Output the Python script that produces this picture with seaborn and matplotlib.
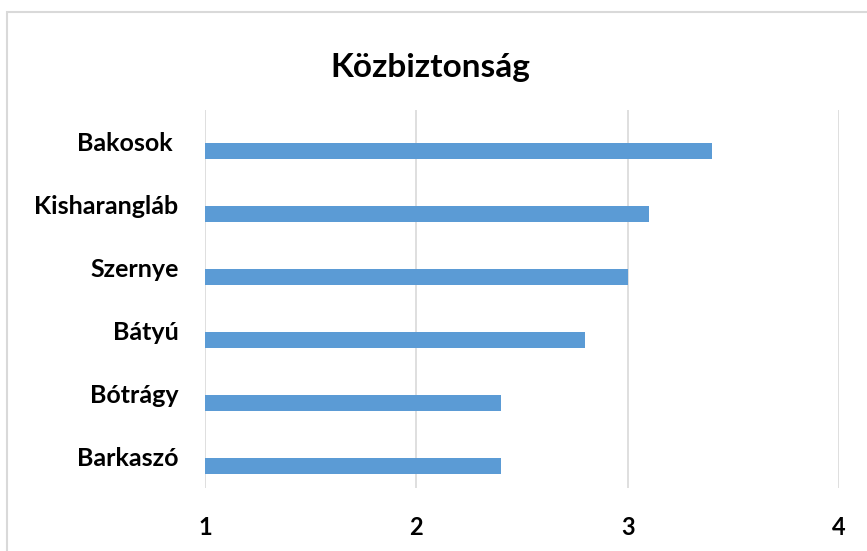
import matplotlib
matplotlib.use("Agg")
import matplotlib.pyplot as plt
import seaborn as sns
import pandas as pd
from matplotlib.patches import Rectangle

categories = ["Bakosok ", "Kisharangláb", "Szernye", "Bátyú", "Bótrágy", "Barkaszó"]
values = [3.4, 3.1, 3.0, 2.8, 2.4, 2.4]
xticks = [1, 2, 3, 4]
title = "Közbiztonság"

df = pd.DataFrame({"telepules": categories, "ertek": values})

sns.set_theme(style="white")
plt.rcParams["font.family"] = ["Lato", "DejaVu Sans"]
plt.rcParams["text.color"] = "black"

fig = plt.figure(figsize=(8.67, 5.51), dpi=100)
ax = fig.add_axes([205/867, 1 - 488/551, (839 - 205)/867, (488 - 110)/551])

sns.barplot(data=df, x="ertek", y="telepules", orient="h", color="#5B9BD5",
            width=0.25, saturation=1, ax=ax, zorder=3)
for p in ax.patches:
    p.set_y(p.get_y() + 0.15)
    p.set_linewidth(0)

ax.set_xlim(1, 4)
ax.set_ylim(5.5, -0.5)
ax.set_xticks(xticks)
ax.set_xticklabels([str(t) for t in xticks], fontsize=17, fontweight="bold", color="black")
ax.tick_params(axis="x", length=0, pad=20)
ax.tick_params(axis="y", length=0, pad=19)
for lbl in ax.get_yticklabels():
    lbl.set_fontsize(18)
    lbl.set_fontweight("bold")
    lbl.set_color("black")
ax.set_xlabel("")
ax.set_ylabel("")
ax.grid(axis="x", color="#D9D9D9", linewidth=1.2, zorder=0)
ax.grid(axis="y", visible=False)
for s in ax.spines.values():
    s.set_visible(False)

fig.text(0.496, 1 - 68/551, title, ha="center", va="center", fontsize=24,
         fontweight="bold", color="black")

fig.patches.append(Rectangle((7/867, -0.1), 1.2, 1 - 12/551 + 0.1, transform=fig.transFigure,
                             fill=False, edgecolor="#D9D9D9", linewidth=1.5, figure=fig))

fig.savefig("out.png", dpi=100)
